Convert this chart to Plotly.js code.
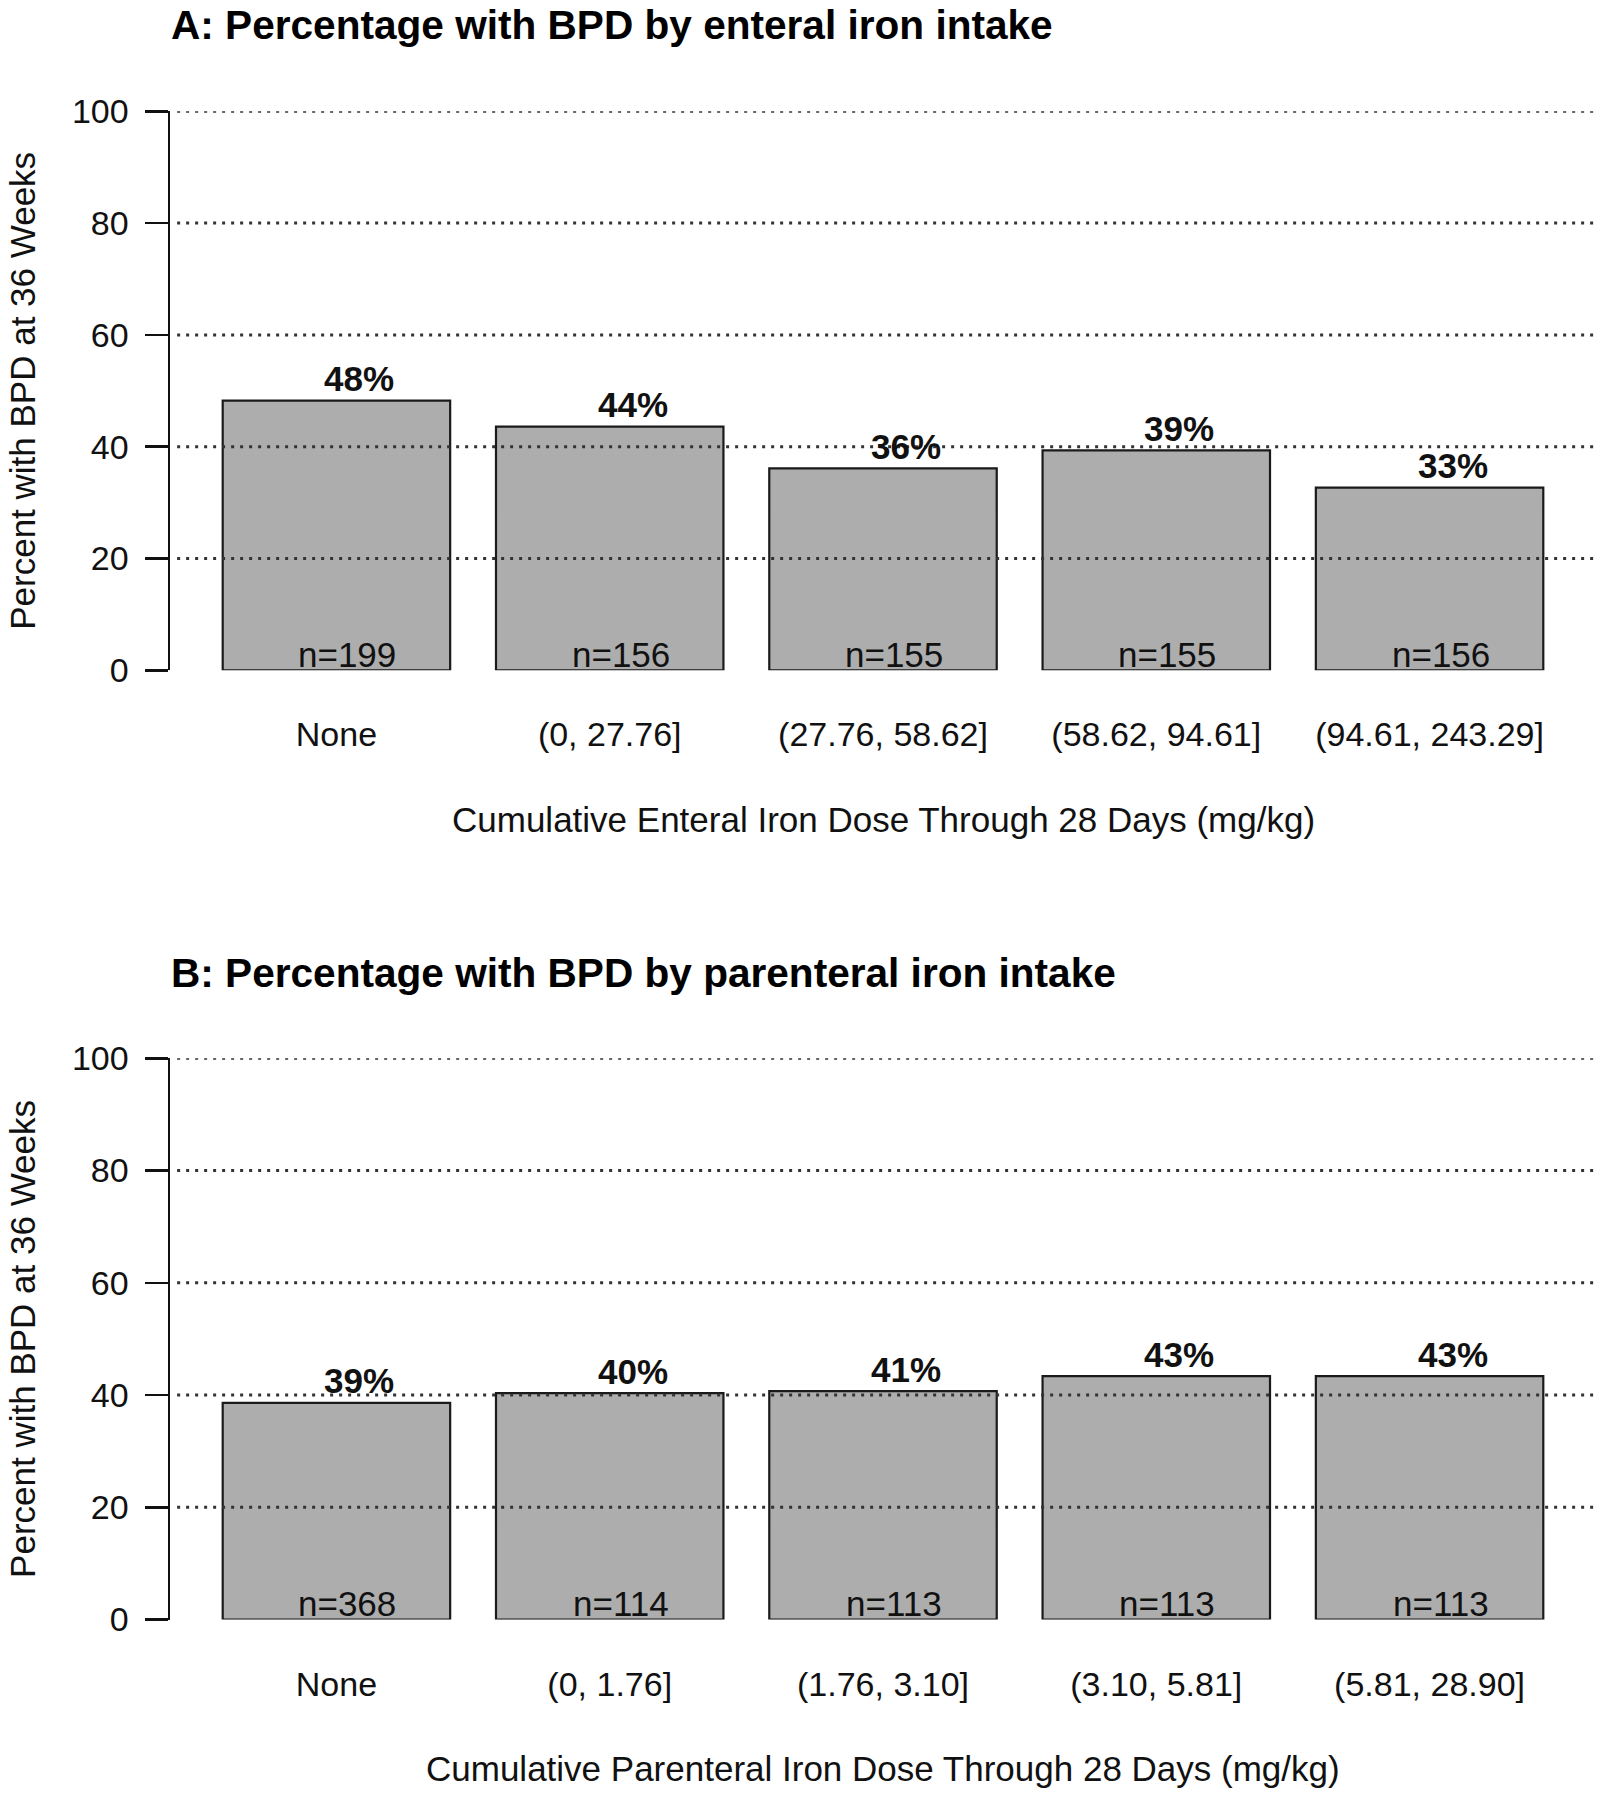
<!DOCTYPE html>
<html>
<head>
<meta charset="utf-8">
<script src="https://cdn.plot.ly/plotly-3.0.1.min.js"></script>
<style>html,body{margin:0;padding:0;background:#fff;}</style>
</head>
<body>
<div id="chart" style="width:1608px;height:1800px;"></div>
<script>
// ---- Data ----
const enteralCats = ["None", "(0, 27.76]", "(27.76, 58.62]", "(58.62, 94.61]", "(94.61, 243.29]"];
const enteralPct = [48.24, 43.59, 36.13, 39.35, 32.69];
const enteralPctLabels = ["48%", "44%", "36%", "39%", "33%"];
const enteralN = ["n=199", "n=156", "n=155", "n=155", "n=156"];

const parenteralCats = ["None", "(0, 1.76]", "(1.76, 3.10]", "(3.10, 5.81]", "(5.81, 28.90]"];
const parenteralPct = [38.59, 40.35, 40.71, 43.36, 43.36];
const parenteralPctLabels = ["39%", "40%", "41%", "43%", "43%"];
const parenteralN = ["n=368", "n=114", "n=113", "n=113", "n=113"];

const yTicks = [0, 20, 40, 60, 80, 100];
const gridVals = [20, 40, 60, 80, 100];

const titleA = "A: Percentage with BPD by enteral iron intake";
const titleB = "B: Percentage with BPD by parenteral iron intake";
const xTitleA = "Cumulative Enteral Iron Dose Through 28 Days (mg/kg)";
const xTitleB = "Cumulative Parenteral Iron Dose Through 28 Days (mg/kg)";
const yTitle = "Percent with BPD at 36 Weeks";

// ---- Layout helpers ----
const W = 1608, H = 1800;
const FONT = "Liberation Sans, Arial, Helvetica, sans-serif";
const INK = "#111111";
const px = p => p / W;
const py = p => 1 - p / H;

const xDomain = [px(170), px(1596)];
const yDomA = [py(670.3), py(111.3)];
const yDomB = [py(1619.5), py(1058.3)];

function barTrace(cats, vals, xa, ya) {
  return {
    type: "bar", x: cats, y: vals, xaxis: xa, yaxis: ya,
    marker: {color: "#ADADAD", line: {color: "#1a1a1a", width: 2.2}},
    cliponaxis: false, hoverinfo: "skip", showlegend: false
  };
}

const data = [
  barTrace(enteralCats, enteralPct, "x", "y"),
  barTrace(parenteralCats, parenteralPct, "x2", "y2")
];

function yAxis(domain, anchor) {
  return {
    domain: domain, anchor: anchor, range: [0, 100],
    tickvals: yTicks, ticks: "outside", ticklen: 23, tickwidth: 2.5, tickcolor: INK,
    showline: true, linewidth: 2.5, linecolor: INK,
    showgrid: false, zeroline: false,
    tickfont: {family: FONT, size: 34, color: INK},
    ticklabelstandoff: 9
  };
}
function xAxis(anchor) {
  return {
    domain: xDomain, anchor: anchor, type: "category",
    range: [-0.609, 4.609],
    showline: false, showgrid: false, zeroline: false, ticks: "",
    tickfont: {family: FONT, size: 34, color: INK},
    ticklabelstandoff: 41
  };
}

const shapes = [];
[["y", "x"], ["y2", "x2"]].forEach(([ya, xa]) => {
  gridVals.forEach(v => {
    shapes.push({
      type: "line", layer: "above",
      xref: xa + " domain", x0: 0.005, x1: 1,
      yref: ya, y0: v, y1: v,
      line: {color: "#333333", width: 3, dash: "3px,6px"}
    });
  });
});

const annotations = [];
function addBarLabels(cats, vals, pctLabels, nLabels, xa, ya) {
  cats.forEach((c, i) => {
    annotations.push({
      xref: xa, yref: ya, x: c, y: vals[i], text: pctLabels[i],
      showarrow: false, xanchor: "center", yanchor: "middle",
      xshift: 23, yshift: 22,
      font: {family: FONT, size: 35, color: INK, weight: "bold"}
    });
    annotations.push({
      xref: xa, yref: ya, x: c, y: 0, text: nLabels[i],
      showarrow: false, xanchor: "center", yanchor: "middle",
      xshift: 11, yshift: 16,
      font: {family: FONT, size: 35, color: INK}
    });
  });
}
addBarLabels(enteralCats, enteralPct, enteralPctLabels, enteralN, "x", "y");
addBarLabels(parenteralCats, parenteralPct, parenteralPctLabels, parenteralN, "x2", "y2");

function addText(text, x, y, opts) {
  annotations.push(Object.assign({
    xref: "paper", yref: "paper", x: x, y: y, text: text, showarrow: false,
    xanchor: "center", yanchor: "middle",
    font: {family: FONT, size: 35, color: INK}
  }, opts || {}));
}
addText(titleA, px(169), py(25), {xanchor: "left", font: {family: FONT, size: 40.6, color: "#000", weight: "bold"}});
addText(titleB, px(169), py(973), {xanchor: "left", font: {family: FONT, size: 40.6, color: "#000", weight: "bold"}});
addText(xTitleA, px(883), py(819.5));
addText(xTitleB, px(883), py(1768));
addText(yTitle, px(23), py(390.8), {textangle: -90});
addText(yTitle, px(23), py(1338.9), {textangle: -90});

const layout = {
  width: W, height: H,
  margin: {l: 0, r: 0, t: 0, b: 0, pad: 0},
  paper_bgcolor: "#ffffff", plot_bgcolor: "rgba(0,0,0,0)",
  bargap: 0.1677,
  showlegend: false,
  xaxis: xAxis("y"),
  yaxis: yAxis(yDomA, "x"),
  xaxis2: xAxis("y2"),
  yaxis2: yAxis(yDomB, "x2"),
  shapes: shapes,
  annotations: annotations
};

Plotly.newPlot("chart", data, layout, {displayModeBar: false, staticPlot: true});
</script>
</body>
</html>
